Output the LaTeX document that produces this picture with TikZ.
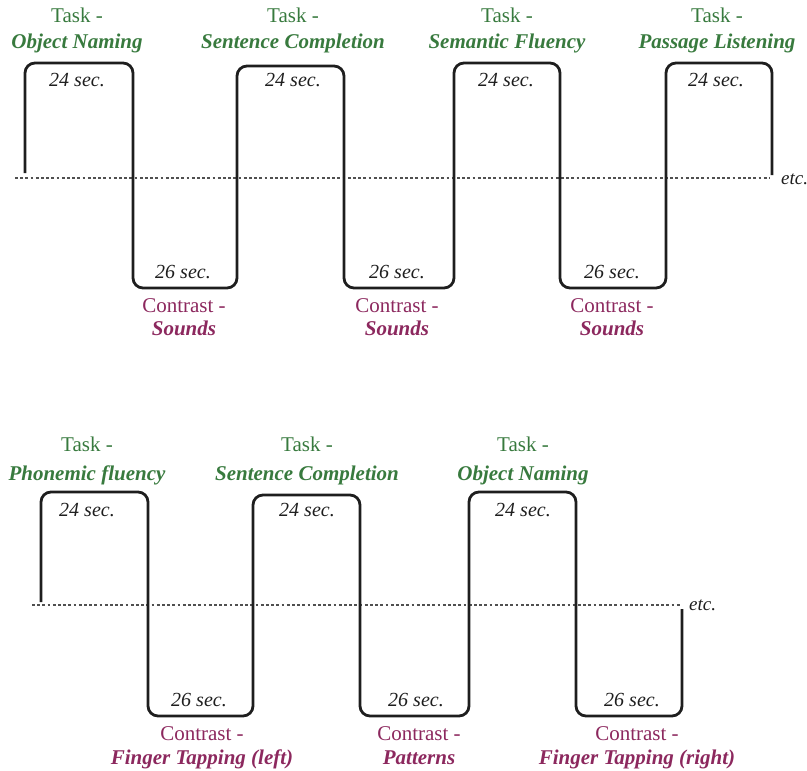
\documentclass[tikz,border=0pt]{standalone}
\usepackage{fontspec}
\setmainfont{Liberation Serif}
\definecolor{taskgreen}{RGB}{56,122,62}
\definecolor{conmaroon}{RGB}{140,40,94}
\definecolor{wavecol}{RGB}{30,30,30}
\definecolor{basecol}{RGB}{80,80,80}
\begin{document}
\begin{tikzpicture}[x=1pt,y=-1pt,
  wave/.style={draw=wavecol, line width=2.8pt, rounded corners=10pt, line join=round},
  baseline/.style={draw=basecol, line width=2.8pt, dash pattern=on 2.8pt off 2.4pt},
  tasklbl/.style={anchor=base, text=taskgreen, font=\fontsize{21}{24}\selectfont, inner sep=0pt},
  taskname/.style={anchor=base, text=taskgreen, font=\fontsize{21}{24}\selectfont\bfseries\itshape, inner sep=0pt},
  conlbl/.style={anchor=base, text=conmaroon, font=\fontsize{21}{24}\selectfont, inner sep=0pt},
  conname/.style={anchor=base, text=conmaroon, font=\fontsize{21}{24}\selectfont\bfseries\itshape, inner sep=0pt},
  dur/.style={anchor=base, text=wavecol, font=\fontsize{20}{24}\selectfont\itshape, inner sep=0pt},
  etclbl/.style={anchor=base west, text=wavecol, font=\fontsize{19}{24}\selectfont\itshape, inner sep=0pt}
]
\useasboundingbox (0,0) rectangle (807,771);

% ---------- top row ----------
\coordinate (tl) at (15,178);
\coordinate (tr) at (770,178);
\draw[baseline] (tl) -- (tr);
\node[etclbl] (etc1) at (781,184) {etc.};

\draw[wave] (25,173) -- (25,63) -- (133,63) -- (133,288) -- (237,288)
  -- (237,66) -- (344,66) -- (344,288) -- (454,288) -- (454,63) -- (560,63)
  -- (560,288) -- (666,288) -- (666,63) -- (772,63) -- (772,175);

\node[tasklbl]  (t1a) at (77,23)  {Task -};
\node[taskname] (t1b) at (77,48)  {Object Naming};
\node[tasklbl]  (t2a) at (293,23) {Task -};
\node[taskname] (t2b) at (293,48) {Sentence Completion};
\node[tasklbl]  (t3a) at (507,23) {Task -};
\node[taskname] (t3b) at (507,48) {Semantic Fluency};
\node[tasklbl]  (t4a) at (717,23) {Task -};
\node[taskname] (t4b) at (717,48) {Passage Listening};

\node[dur] (d1) at (77,86)  {24 sec.};
\node[dur] (d2) at (293,86) {24 sec.};
\node[dur] (d3) at (506,86) {24 sec.};
\node[dur] (d4) at (716,86) {24 sec.};

\node[dur] (e1) at (183,278) {26 sec.};
\node[dur] (e2) at (397,278) {26 sec.};
\node[dur] (e3) at (612,278) {26 sec.};

\node[conlbl]  (c1a) at (184,312) {Contrast -};
\node[conname] (c1b) at (184,335) {Sounds};
\node[conlbl]  (c2a) at (397,312) {Contrast -};
\node[conname] (c2b) at (397,335) {Sounds};
\node[conlbl]  (c3a) at (612,312) {Contrast -};
\node[conname] (c3b) at (612,335) {Sounds};

% ---------- bottom row ----------
\coordinate (bl) at (32,605);
\coordinate (br) at (680,605);
\draw[baseline] (bl) -- (br);
\node[etclbl] (etc2) at (689,610) {etc.};

\draw[wave] (41,602) -- (41,492) -- (148,492) -- (148,716) -- (253,716)
  -- (253,495) -- (360,495) -- (360,716) -- (469,716) -- (469,492) -- (576,492)
  -- (576,716) -- (682,716) -- (682,609);

\node[tasklbl]  (u1a) at (87,451)  {Task -};
\node[taskname] (u1b) at (87,480)  {Phonemic fluency};
\node[tasklbl]  (u2a) at (307,451) {Task -};
\node[taskname] (u2b) at (307,480) {Sentence Completion};
\node[tasklbl]  (u3a) at (523,451) {Task -};
\node[taskname] (u3b) at (523,480) {Object Naming};

\node[dur] (f1) at (87,516)  {24 sec.};
\node[dur] (f2) at (307,516) {24 sec.};
\node[dur] (f3) at (523,516) {24 sec.};

\node[dur] (g1) at (199,706) {26 sec.};
\node[dur] (g2) at (416,706) {26 sec.};
\node[dur] (g3) at (632,706) {26 sec.};

\node[conlbl]  (k1a) at (202,740) {Contrast -};
\node[conname] (k1b) at (202,764) {Finger Tapping (left)};
\node[conlbl]  (k2a) at (419,740) {Contrast -};
\node[conname] (k2b) at (419,764) {Patterns};
\node[conlbl]  (k3a) at (637,740) {Contrast -};
\node[conname] (k3b) at (637,764) {Finger Tapping (right)};
\end{tikzpicture}
\end{document}
